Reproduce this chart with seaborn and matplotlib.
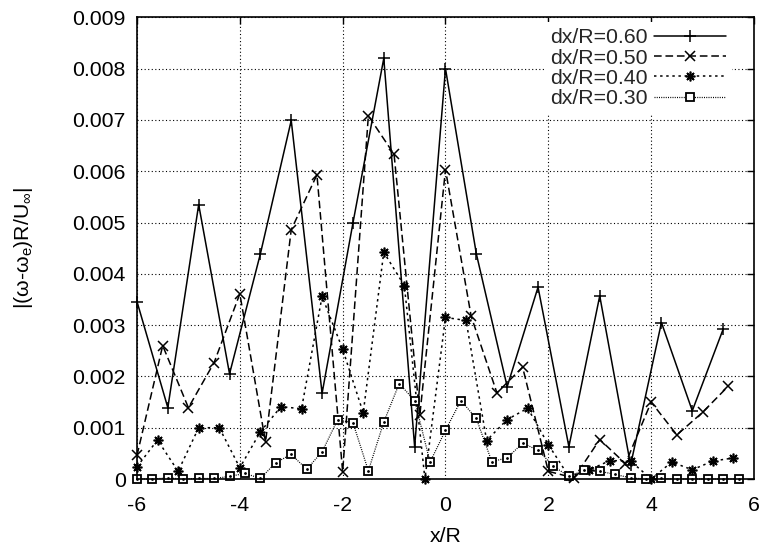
import numpy as np
import pandas as pd
import matplotlib
matplotlib.use("Agg")
import matplotlib.pyplot as plt
import seaborn as sns

# ---------------- data ----------------
x60 = [-6.0, -5.4, -4.8, -4.2, -3.6, -3.0, -2.4, -1.8, -1.2, -0.6,
       0.0, 0.6, 1.2, 1.8, 2.4, 3.0, 3.6, 4.2, 4.8, 5.4]
y60 = [0.00346, 0.00139, 0.00535, 0.00205, 0.00439, 0.00699, 0.00167, 0.00499, 0.0082, 0.00063,
       0.0080, 0.00439, 0.0018, 0.00374, 0.00063, 0.00357, 0.00027, 0.00305, 0.00133, 0.00292]

x50 = [-6.0, -5.5, -5.0, -4.5, -4.0, -3.5, -3.0, -2.5, -2.0, -1.5, -1.0, -0.5,
       0.0, 0.5, 1.0, 1.5, 2.0, 2.5, 3.0, 3.5, 4.0, 4.5, 5.0, 5.5]
y50 = [0.00046, 0.0026, 0.00139, 0.00227, 0.00361, 0.00072, 0.00486, 0.00593, 0.00014, 0.00708,
       0.00633, 0.00124, 0.00603, 0.00317, 0.00168, 0.00218, 0.00015, 0.00002, 0.00077, 0.0003,
       0.0015, 0.00086, 0.0013, 0.00181]

x40 = [-6.0, -5.6, -5.2, -4.8, -4.4, -4.0, -3.6, -3.2, -2.8, -2.4, -2.0, -1.6, -1.2, -0.8, -0.4,
       0.0, 0.4, 0.8, 1.2, 1.6, 2.0, 2.4, 2.8, 3.2, 3.6, 4.0, 4.4, 4.8, 5.2, 5.6]
y40 = [0.00024, 0.00076, 0.00015, 0.0010, 0.0010, 0.00022, 0.00092, 0.00141, 0.00137, 0.00356,
       0.00253, 0.00129, 0.00442, 0.00377, 0.0, 0.00315, 0.00309, 0.00075, 0.00116, 0.00138,
       0.00067, 0.00005, 0.00018, 0.00036, 0.00035, 0.0, 0.00033, 0.00018, 0.00035, 0.00041]

x30 = [-6.0, -5.7, -5.4, -5.1, -4.8, -4.5, -4.2, -3.9, -3.6, -3.3, -3.0, -2.7, -2.4, -2.1,
       -1.8, -1.5, -1.2, -0.9, -0.6, -0.3, 0.0, 0.3, 0.6, 0.9, 1.2, 1.5, 1.8, 2.1, 2.4, 2.7,
       3.0, 3.3, 3.6, 3.9, 4.2, 4.5, 4.8, 5.1, 5.4, 5.7]
y30 = [0.0, 0.0, 0.00002, 0.0, 0.00001, 0.00001, 0.00005, 0.00011, 0.00001, 0.00032,
       0.00048, 0.00019, 0.00053, 0.00115, 0.0011, 0.00016, 0.00111, 0.00186, 0.00153, 0.00033,
       0.00095, 0.00153, 0.00118, 0.00034, 0.00041, 0.0007, 0.00056, 0.00025, 0.00005, 0.00017,
       0.00015, 0.00009, 0.00002, 0.0, 0.00001, 0.0, 0.0, 0.0, 0.0, 0.0]

labels = ["dx/R=0.60", "dx/R=0.50", "dx/R=0.40", "dx/R=0.30"]
xticks = [-6, -4, -2, 0, 2, 4, 6]
yticks = [0, 0.001, 0.002, 0.003, 0.004, 0.005, 0.006, 0.007, 0.008, 0.009]
ytick_labels = ["0", "0.001", "0.002", "0.003", "0.004", "0.005", "0.006", "0.007", "0.008", "0.009"]

# ---------------- style ----------------
sns.set_theme(style="white")
plt.rcParams["font.family"] = ["Liberation Sans", "DejaVu Sans"]
plt.rcParams["mathtext.fontset"] = "custom"
plt.rcParams["mathtext.rm"] = "Liberation Sans"
plt.rcParams["mathtext.it"] = "Liberation Sans:italic"
FS = 15.3

fig = plt.figure(figsize=(7.64, 5.48), dpi=100)
ax = fig.add_axes([0.1793, 0.1259, 0.8076, 0.8425])

styles = [
    dict(x=x60, y=y60, dashes=None, marker="+", ms=8, mew=1.1, lw=1.1),
    dict(x=x50, y=y50, dashes=(5, 2.5), marker="x", ms=6.5, mew=1.1, lw=1.1),
    dict(x=x40, y=y40, dashes=(1.6, 2.4), marker=(8, 2, 0), ms=7.0, mew=1.2, lw=1.1),
    dict(x=x30, y=y30, dashes=(0.8, 1.0), marker="s", ms=6.0, mew=1.3, lw=0.9),
]

for st, lab in zip(styles, labels):
    kw = dict(color="black", marker=st["marker"], markersize=st["ms"],
              markeredgewidth=st["mew"], markeredgecolor="black",
              linewidth=st["lw"], label=lab, clip_on=False)
    if st["marker"] == "s":
        kw["markerfacecolor"] = "white"
    else:
        kw["markerfacecolor"] = "black"
    if st["dashes"] is not None:
        kw["dashes"] = st["dashes"]
    sns.lineplot(x=st["x"], y=st["y"], ax=ax, sort=False, estimator=None, **kw)

# center dot inside the square markers (gnuplot style)
ax.plot(x30, y30, linestyle="none", marker=".", markersize=2, color="black", clip_on=False)

ax.set_xlim(-6, 6)
ax.set_ylim(0, 0.009)
ax.set_xticks(xticks)
ax.set_xticklabels([str(t) for t in xticks])
ax.set_yticks(yticks)
ax.set_yticklabels(ytick_labels)
ax.tick_params(axis="both", which="both", direction="in", length=5, width=1,
               top=True, right=True, labelsize=FS, colors="black")
ax.tick_params(axis="y", pad=8)
ax.tick_params(axis="x", pad=12)

ax.grid(True, linestyle=(0, (1, 2.2)), color="black", linewidth=0.8)
for s in ax.spines.values():
    s.set_color("black")
    s.set_linewidth(1.2)

ax.set_xlabel("x/R", fontsize=FS, color="black")
ax.set_ylabel(r"|(ω-ω$_\mathrm{e}$)R/U$_\infty$|", fontsize=FS, color="black")
ax.xaxis.set_label_coords(0.5, -0.105)
ax.yaxis.set_label_coords(-0.165, 0.5)

leg = ax.legend(loc="upper right", bbox_to_anchor=(0.965, 0.99), markerfirst=False,
                fontsize=FS, frameon=True, handlelength=3.4, handletextpad=0.3,
                labelspacing=0.06, borderpad=0.3, borderaxespad=0.0)
leg.get_frame().set_facecolor("white")
leg.get_frame().set_edgecolor("none")
leg.get_frame().set_alpha(1.0)
leg.get_frame().set_boxstyle("square", pad=0)

fig.savefig("out.png", dpi=100)
